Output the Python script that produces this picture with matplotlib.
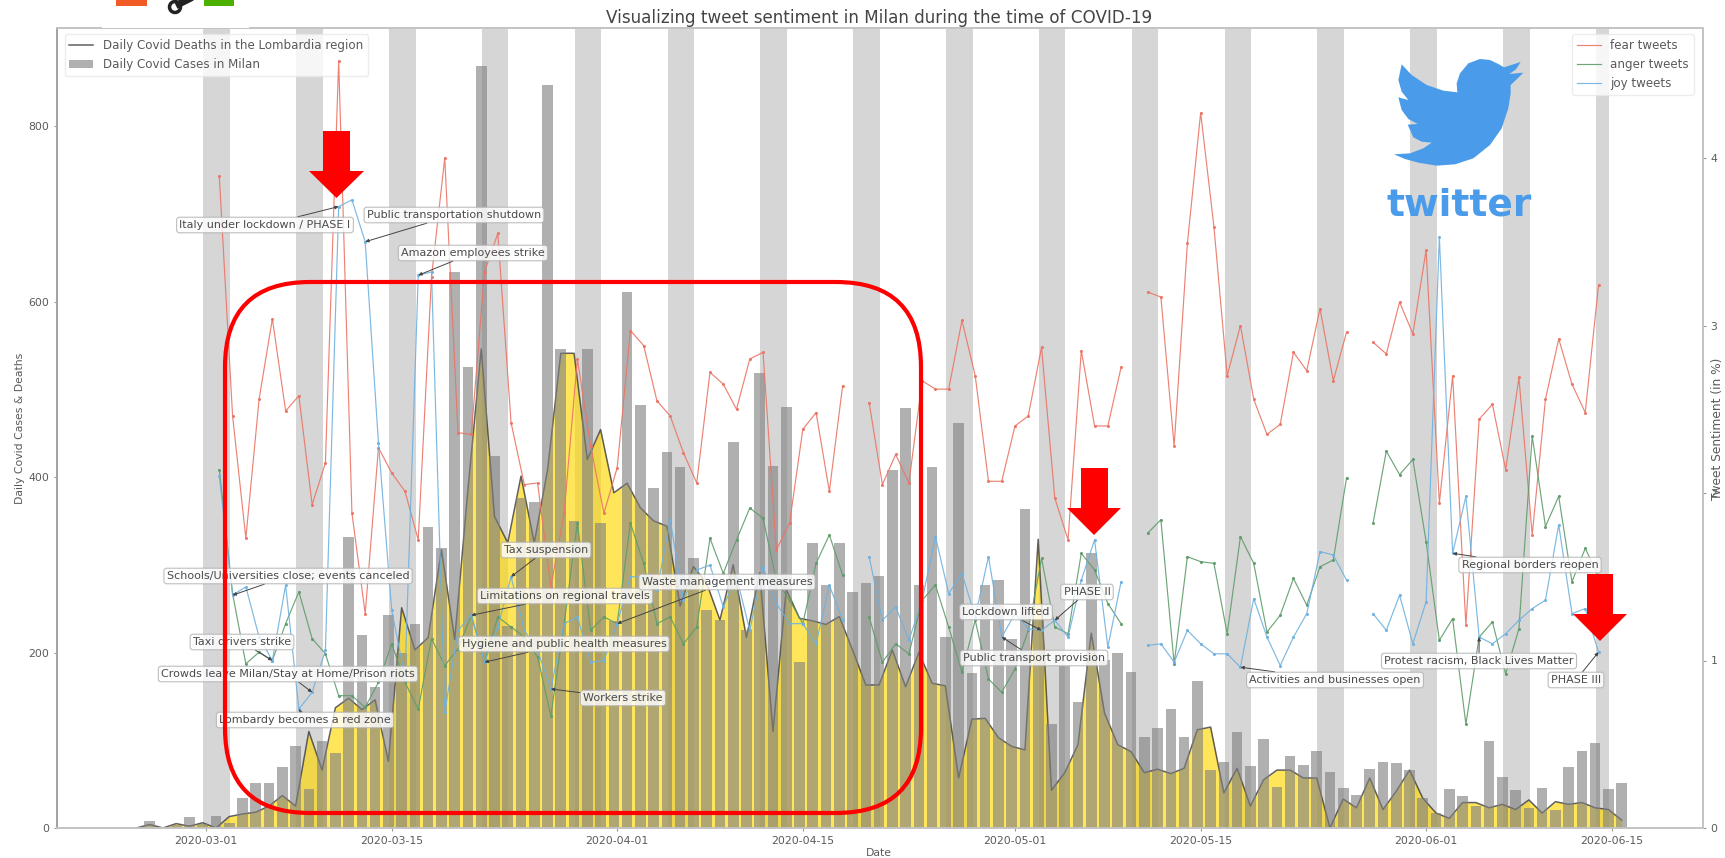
import numpy as np
import matplotlib
matplotlib.use('Agg')
from matplotlib import pyplot as plt
from matplotlib.patches import FancyBboxPatch, Polygon, Circle, Rectangle
from matplotlib.lines import Line2D
from matplotlib.transforms import Affine2D

nan = np.nan

# day numbers, 0 is 2020-03-01
case_days = list(range(-5, 108))
sent_days = list(range(1, 106))

cases = [0, 8, 1, 3, 13, 4, 14, 6, 34, 51,
         51, 69, 93, 44, 99, 86, 332, 220, 161, 243,
         200, 232, 343, 319, 634, 525, 868, 424, 230, 376,
         372, 847, 546, 350, 546, 348, 236, 611, 482, 387,
         428, 411, 308, 249, 237, 440, 226, 519, 412, 480,
         189, 325, 277, 325, 269, 279, 287, 408, 479, 277,
         411, 218, 462, 177, 277, 283, 215, 364, 237, 118,
         185, 144, 313, 192, 200, 178, 104, 114, 136, 104,
         168, 66, 75, 109, 71, 101, 47, 82, 72, 88,
         64, 46, 38, 67, 75, 74, 66, 34, 17, 44,
         37, 25, 99, 58, 43, 23, 46, 21, 70, 88,
         97, 45, 51]

deaths = [0, 4, 0, 5, 2, 6, 0, 13, 16, 18,
          25, 37, 25, 110, 66, 137, 148, 135, 146, 76,
          251, 203, 217, 317, 215, 386, 546, 355, 325, 401,
          325, 408, 541, 541, 420, 454, 382, 393, 365, 350,
          344, 253, 298, 279, 237, 300, 217, 291, 110, 272,
          239, 236, 232, 241, 203, 163, 163, 203, 161, 200,
          165, 162, 57, 124, 125, 103, 93, 89, 329, 43,
          63, 95, 222, 131, 95, 87, 63, 67, 62, 68,
          112, 115, 40, 68, 25, 55, 66, 66, 57, 57,
          0, 33, 23, 57, 21, 42, 66, 34, 17, 11,
          29, 29, 23, 27, 21, 32, 17, 30, 27, 29,
          23, 21, 9]

fear = [3.89, 2.46, 1.73, 2.56, 3.04, 2.49, 2.58, 1.93, 2.18, 4.58,
        1.88, 1.28, 2.27, 2.12, 2.01, 1.72, 3.29, 4.0, 2.36, 2.35,
        3.32, 3.55, 2.42, 2.05, 2.06, 1.44, 1.88, 2.8, 2.28, 1.88,
        2.15, 2.97, 2.88, 2.55, 2.46, 2.24, 2.06, 2.72, 2.65, 2.5,
        2.8, 2.84, 1.66, 1.82, 2.38, 2.48, 2.01, 2.64, nan, 2.54,
        2.05, 2.23, 2.06, 2.67, 2.62, 2.62, 3.03, 2.7, 2.07, 2.07,
        2.4, 2.46, 2.87, 1.97, 1.72, 2.85, 2.4, 2.4, 2.75, nan,
        3.2, 3.17, 2.28, 3.49, 4.27, 3.59, 2.7, 3.0, 2.56, 2.35,
        2.41, 2.84, 2.73, 3.1, 2.67, 2.96, nan, 2.9, 2.83, 3.14,
        2.95, 3.45, 1.94, 2.7, 1.21, 2.44, 2.53, 2.14, 2.69, 1.75,
        2.56, 2.92, 2.65, 2.48, 3.24]

anger = [2.14, 1.4, 0.98, 1.05, 1.0, 1.22, 1.41, 1.13, 1.04, 0.79,
         0.79, 0.72, 0.87, 1.1, 0.87, 0.71, 1.13, 0.97, 1.07, 1.27,
         0.99, 1.26, 1.2, 1.14, 1.02, 0.67, 1.22, 1.82, 1.18, 1.26,
         1.22, 1.82, 1.58, 1.22, 1.26, 1.1, 1.2, 1.73, 1.52, 1.72,
         1.91, 1.85, 1.48, 1.36, 1.22, 1.58, 1.75, 1.51, nan, 1.26,
         0.99, 1.1, 1.04, 1.36, 1.45, 1.2, 0.93, 1.24, 0.89, 0.81,
         0.95, 1.18, 1.61, 1.2, 1.16, 1.64, 1.54, 1.34, 1.22, nan,
         1.76, 1.84, 0.98, 1.62, 1.59, 1.58, 1.16, 1.74, 1.58, 1.17,
         1.27, 1.49, 1.33, 1.56, 1.6, 2.09, nan, 1.82, 2.25, 2.11,
         2.2, 1.71, 1.12, 1.25, 0.62, 1.14, 1.23, 0.92, 1.19, 2.34,
         1.8, 1.98, 1.47, 1.67, 1.5]

joy = [2.1, 1.39, 1.44, 1.14, 1.0, 1.45, 0.71, 0.81, 1.06, 3.71,
       3.75, 3.5, 2.3, 1.3, 0.9, 3.3, 3.32, 0.69, 1.18, 1.27,
       0.99, 1.2, 1.5, 1.18, 1.06, 0.83, 1.22, 1.26, 0.99, 1.0,
       1.22, 1.5, 1.5, 1.42, 1.84, 1.36, 1.54, 1.57, 1.32, 1.5,
       1.18, 1.56, 1.34, 1.22, 1.22, 1.1, 1.45, 1.24, nan, 1.62,
       1.24, 1.32, 1.12, 1.36, 1.74, 1.4, 1.52, 1.26, 1.62, 1.14,
       1.28, 1.19, 1.18, 1.24, 1.14, 1.48, 1.72, 1.08, 1.47, nan,
       1.09, 1.1, 0.99, 1.18, 1.1, 1.04, 1.04, 0.96, 1.37, 1.14,
       0.97, 1.14, 1.28, 1.65, 1.63, 1.48, nan, 1.28, 1.18, 1.39,
       1.1, 1.35, 3.53, 1.64, 1.98, 1.14, 1.1, 1.16, 1.24, 1.31,
       1.36, 1.81, 1.28, 1.31, 1.05]

tick_days = [0, 14, 31, 45, 61, 75, 92, 106]
tick_labels = ['2020-03-01', '2020-03-15', '2020-04-01', '2020-04-15',
               '2020-05-01', '2020-05-15', '2020-06-01', '2020-06-15']
band_days = list(range(0, 106, 7))

# label, day it points at, label centre in image pixels
events = [
    ('Italy under lockdown / PHASE I', 10, 265, 225),
    ('Public transportation shutdown', 12, 454, 215),
    ('Amazon employees strike', 16, 473, 253),
    ('Schools/Universities close; events canceled', 2, 288, 576),
    ('Taxi drivers strike', 5, 242, 642),
    ('Crowds leave Milan/Stay at Home/Prison riots', 8, 288, 674),
    ('Lombardy becomes a red zone', 7, 305, 720),
    ('Tax suspension', 23, 546, 550),
    ('Limitations on regional travels', 20, 565, 596),
    ('Hygiene and public health measures', 21, 564, 644),
    ('Workers strike', 26, 623, 698),
    ('Waste management measures', 31, 727, 582),
    ('Lockdown lifted', 63, 1006, 612),
    ('PHASE II', 64, 1087, 592),
    ('Public transport provision', 60, 1034, 658),
    ('Activities and businesses open', 78, 1335, 680),
    ('Regional borders reopen', 94, 1530, 565),
    ('Protest racism, Black Lives Matter', 96, 1479, 661),
    ('PHASE III', 105, 1576, 680),
]

W, H = 1725, 858
TXT = '#5a5a5a'
RED = '#fe0000'
BLUE = '#4a9ceb'
BAR_SHIFT = -0.25   # bars and the deaths line sit a little left of their tick

plt.rcParams['text.color'] = TXT
plt.rcParams['axes.labelcolor'] = TXT

fig = plt.figure(figsize=(W / 100, H / 100), dpi=100)
ax = fig.add_axes([57 / W, 1 - 828 / H, (1703 - 57) / W, 800 / H])
ax2 = ax.twinx()
ax.set_zorder(1)
ax2.set_zorder(2)
ax2.patch.set_visible(False)

for d in band_days:
    width = 1 if d == band_days[-1] else 2
    ax.axvspan(d - 0.2, d - 0.2 + width, color='#d6d6d6', lw=0, zorder=1)

case_x = np.array(case_days) + BAR_SHIFT
ax.fill_between(case_x, deaths, color='gold', alpha=0.65, lw=0, zorder=2)
ax.plot(case_x, deaths, color='#444444', lw=1.1, alpha=0.85, zorder=3,
        label='Daily Covid Deaths in the Lombardia region')
ax.bar(case_x, cases, width=0.8, color='gray', alpha=0.62, zorder=4,
       label='Daily Covid Cases in Milan')

ax2.plot(sent_days, fear, color='#ea7565', lw=0.85, marker='.', ms=2.5, alpha=0.9, label='fear tweets')
ax2.plot(sent_days, anger, color='#5f9c6b', lw=0.85, marker='.', ms=2.5, alpha=0.9, label='anger tweets')
ax2.plot(sent_days, joy, color='#6fb1df', lw=0.85, marker='.', ms=2.5, alpha=0.9, label='joy tweets')

ax.set_xlim(-11.24, 112.88)
ax.set_ylim(0, 911.7)
ax2.set_ylim(0, 800 / 167.5)
ax.set_xticks(tick_days)
ax.set_xticklabels(tick_labels)
ax.set_yticks([0, 200, 400, 600, 800])
ax2.set_yticks([0, 1, 2, 3, 4])
for a in (ax, ax2):
    a.tick_params(labelsize=7.8, color='#999999', labelcolor=TXT, length=2.5, width=0.8, pad=3)
    for s in a.spines.values():
        s.set_color('#c4c4c4')
        s.set_linewidth(1.3)
ax2.spines['left'].set_color('#a0a0a0')

leg = ax.legend(loc='upper left', bbox_to_anchor=(0.0025, 0.9965), fontsize=8.6, framealpha=0.8,
                edgecolor='#e8e8e8', borderaxespad=0.3)
leg2 = ax2.legend(loc='upper right', bbox_to_anchor=(0.9965, 0.9965), fontsize=8.6, framealpha=0.8,
                  edgecolor='#e8e8e8', borderaxespad=0.3)
for line in leg2.get_lines():
    line.set_marker('')

fig.text(879 / W, 1 - 18 / H, 'Visualizing tweet sentiment in Milan during the time of COVID-19',
         ha='center', va='center', fontsize=12.1, color='#444444')
fig.text(879 / W, 1 - 853 / H, 'Date', ha='center', va='center', fontsize=7.8)
fig.text(20 / W, 1 - 428 / H, 'Daily Covid Cases & Deaths', rotation=90,
         ha='center', va='center', fontsize=7.8)
fig.text(1718 / W, 1 - 429 / H, 'Tweet Sentiment (in %)', rotation=90,
         ha='center', va='center', fontsize=8.8)

joy_at = dict(zip(sent_days, joy))
for label, day, px, py in events:
    ax2.annotate(label, xy=(day, joy_at[day]), xycoords='data',
                 xytext=(px, H - py), textcoords='figure pixels',
                 ha='center', va='center', fontsize=8.0, color='#4a4a4a',
                 bbox=dict(boxstyle='round,pad=0.25', fc='white', ec='#b0b0b0', lw=0.8, alpha=0.82),
                 arrowprops=dict(arrowstyle='-|>,head_length=0.25,head_width=0.12', color='#444444',
                                 lw=0.7, shrinkA=0, shrinkB=0),
                 zorder=6)

# overlays pasted on the picture, in image pixels from top left
px_tf = Affine2D().scale(1, -1).translate(0, H)


def add(artist):
    artist.set_transform(px_tf)
    artist.set_zorder(10)
    fig.add_artist(artist)


add(FancyBboxPatch((225, 282), 921 - 225, 813 - 282,
                   boxstyle='round,pad=0,rounding_size=85', fc='none', ec=RED, lw=3.0))

for shaft_l, shaft_r, top, neck, head_l, head_r, tip in [
        (323, 350, 131, 171, 309, 364, 198),
        (1081, 1108, 468, 508, 1067, 1121, 535),
        (1587, 1613, 574, 614, 1573, 1627, 641)]:
    add(Polygon([(shaft_l, top), (shaft_r, top), (shaft_r, neck), (head_r, neck),
                 ((head_l + head_r) / 2, tip), (head_l, neck), (shaft_l, neck)],
                closed=True, fc=RED, ec='none'))

# twitter bird
bird = [(300, 27), (330, 30), (355, 42), (372, 52), (422, 36), (408, 58), (388, 72), (430, 68),
        (410, 88), (392, 105), (392, 130), (385, 175), (365, 235), (330, 285), (280, 325),
        (225, 343), (170, 347), (115, 338), (75, 327), (42, 313), (90, 310), (130, 295),
        (155, 278), (125, 275), (100, 262), (83, 224), (113, 222), (85, 207), (65, 180),
        (55, 142), (85, 150), (65, 125), (55, 90), (65, 43), (95, 75), (140, 105), (190, 122),
        (232, 127), (230, 100), (240, 70), (265, 40)]
add(Polygon([(1380 + x / 3, 50 + y / 3) for x, y in bird], closed=True, fc=BLUE, ec='none'))
fig.text(1459 / W, 1 - 205 / H, 'twitter', ha='center', va='center', fontsize=27,
         fontweight='bold', family='DejaVu Sans', color=BLUE, zorder=10)

# cut off logo at the top left
add(Rectangle((102, 0), 147, 28, fc='white', ec='none'))
add(Rectangle((116, 0), 31, 6, fc='#f15a24', ec='none'))
add(Rectangle((204, 0), 30, 6, fc='#4cb000', ec='none'))
add(Circle((175, 7), 5.5, fc='none', ec='#222222', lw=2.5))
add(Line2D([179, 193], [4, -3], color='#222222', lw=5))

fig.savefig('out.png', dpi=100)
